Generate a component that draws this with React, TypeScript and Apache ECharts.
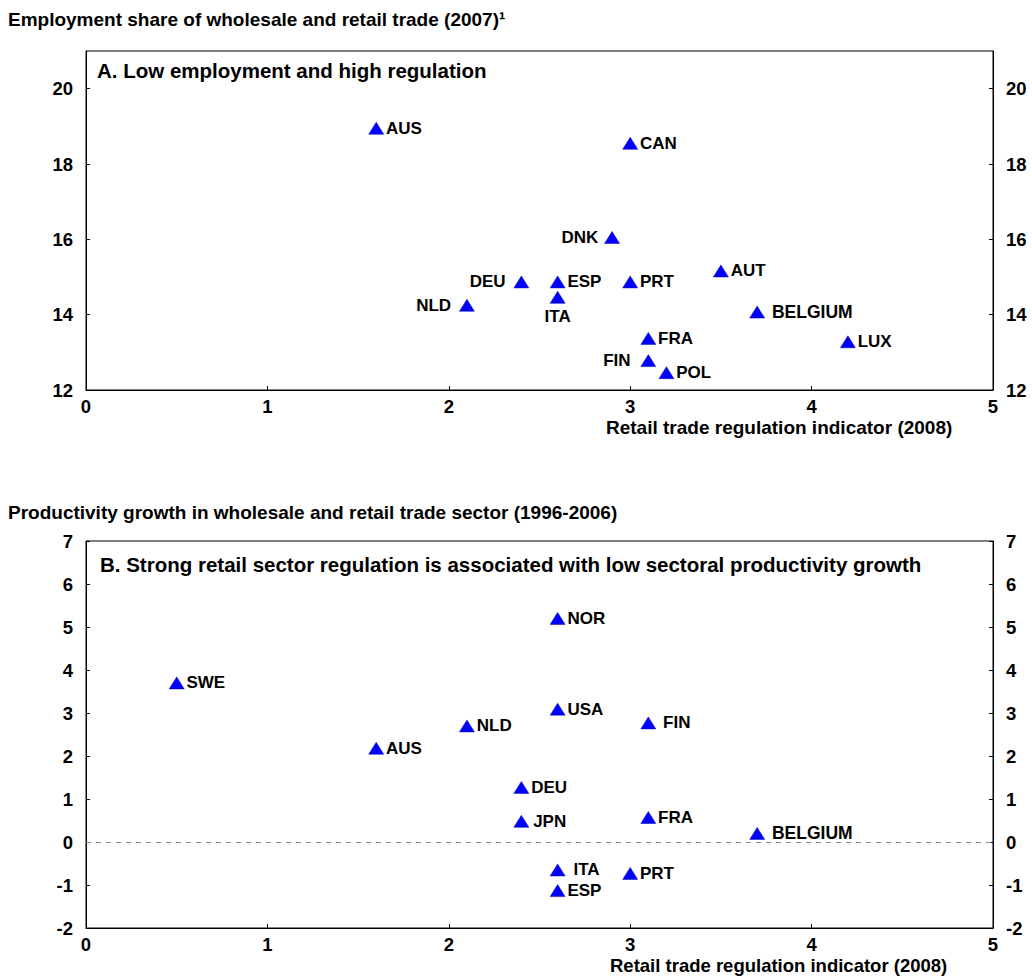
import React, { useEffect, useRef } from "react";
import * as echarts from "echarts";

// Panel A: employment share of wholesale and retail trade (2007) vs regulation (2008)
const countriesA = ["AUS", "CAN", "DNK", "DEU", "ESP", "PRT", "ITA", "NLD", "AUT", "FRA", "FIN", "POL", "BELGIUM", "LUX"];
const regulationA = [1.6, 3.0, 2.9, 2.4, 2.6, 3.0, 2.6, 2.1, 3.5, 3.1, 3.1, 3.2, 3.7, 4.2];
const employmentA = [18.95, 18.55, 16.05, 14.87, 14.87, 14.87, 14.46, 14.25, 15.16, 13.37, 12.78, 12.46, 14.07, 13.28];

// Panel B: productivity growth (1996-2006) vs regulation (2008)
const countriesB = ["SWE", "AUS", "NLD", "NOR", "USA", "FIN", "DEU", "JPN", "FRA", "BELGIUM", "ITA", "ESP", "PRT"];
const regulationB = [0.5, 1.6, 2.1, 2.6, 2.6, 3.1, 2.4, 2.4, 3.1, 3.7, 2.6, 2.6, 3.0];
const productivityB = [3.7, 2.18, 2.7, 5.2, 3.09, 2.77, 1.27, 0.48, 0.57, 0.2, -0.65, -1.13, -0.73];

const xTicksLabel = "Retail trade regulation indicator (2008)";

// label placement (layout only)
const sideA: Record<string, string> = { DNK: "left", DEU: "left", NLD: "left", FIN: "left", ITA: "bottom" };
const gapA: Record<string, number> = { DNK: 6, DEU: 8, NLD: 8, FIN: 10, ITA: 4, BELGIUM: 7 };
const gapB: Record<string, number> = { FIN: 7, ITA: 8, BELGIUM: 7, JPN: 4 };

const FONT = 'Arial, "Liberation Sans", sans-serif';

function buildData(names: string[], xs: number[], ys: number[], side: Record<string, string>, gap: Record<string, number>) {
  return names.map((n, i) => ({
    name: n,
    value: [xs[i], ys[i]],
    label: {
      position: side[n] || "right",
      distance: gap[n] !== undefined ? gap[n] : 2,
      fontWeight: "bold",
      fontSize: n === "BELGIUM" ? 17.5 : 17,
    },
  }));
}

export default function App() {
  const ref = useRef<HTMLDivElement>(null);
  useEffect(() => {
    if (!ref.current) return;
    const chart = echarts.init(ref.current, undefined, { renderer: "svg" });
    const axisLabelBase = { color: "#000", fontSize: 18.5, fontWeight: "bold", fontFamily: FONT };
    const xAxisBase = (gridIndex: number) => ({
      type: "value",
      gridIndex,
      min: 0,
      max: 5,
      interval: 1,
      axisLine: { show: true, onZero: false, lineStyle: { color: "#000", width: 1 } },
      axisTick: { show: true, inside: true, length: 4, lineStyle: { color: "#000" } },
      axisLabel: { ...axisLabelBase, margin: 7 },
      splitLine: { show: false },
    });
    const yAxisBase = (gridIndex: number, position: string, min: number, max: number, interval: number, showMax: boolean) => ({
      type: "value",
      gridIndex,
      position,
      min,
      max,
      interval,
      axisLine: { show: true, lineStyle: { color: "#000", width: 1 } },
      axisTick: { show: true, inside: true, length: 4, lineStyle: { color: "#000" } },
      axisLabel: { ...axisLabelBase, margin: 13, showMaxLabel: showMax },
      splitLine: { show: false },
    });
    const labelStyle = {
      show: true,
      formatter: "{b}",
      color: "#000",
      fontSize: 17,
      fontWeight: "bold",
      fontFamily: FONT,
    };
    chart.setOption({
      animation: false,
      backgroundColor: "#fff",
      grid: [
        { left: 86, top: 51, width: 907, height: 339, show: true, borderColor: "#000", borderWidth: 1, backgroundColor: "transparent" },
        { left: 86, top: 541, width: 907, height: 387, show: true, borderColor: "#000", borderWidth: 1, backgroundColor: "transparent" },
      ],
      xAxis: [xAxisBase(0), xAxisBase(1)],
      yAxis: [
        yAxisBase(0, "left", 12, 21, 2, false),
        yAxisBase(0, "right", 12, 21, 2, false),
        yAxisBase(1, "left", -2, 7, 1, true),
        yAxisBase(1, "right", -2, 7, 1, true),
      ],
      series: [
        {
          type: "scatter",
          xAxisIndex: 0,
          yAxisIndex: 0,
          symbol: "triangle",
          symbolSize: [15, 12],
          itemStyle: { color: "#0000ff", borderColor: "#0000aa", borderWidth: 0.5, opacity: 1 },
          label: labelStyle,
          data: buildData(countriesA, regulationA, employmentA, sideA, gapA),
        },
        {
          type: "scatter",
          xAxisIndex: 1,
          yAxisIndex: 2,
          symbol: "triangle",
          symbolSize: [15, 12],
          itemStyle: { color: "#0000ff", borderColor: "#0000aa", borderWidth: 0.5, opacity: 1 },
          label: labelStyle,
          data: buildData(countriesB, regulationB, productivityB, {}, gapB),
          markLine: {
            silent: true,
            symbol: "none",
            label: { show: false },
            lineStyle: { color: "#888", type: [5, 5], width: 1 },
            data: [{ yAxis: 0 }],
          },
        },
      ],
      graphic: [
        { type: "text", left: 8, top: 10, style: { text: "Employment share of wholesale and retail trade (2007)¹", fill: "#000", font: `bold 19px ${FONT}` } },
        { type: "text", left: 97, top: 60, style: { text: "A. Low employment and high regulation", fill: "#000", font: `bold 20.5px ${FONT}` } },
        { type: "text", left: 606, top: 418, style: { text: xTicksLabel, fill: "#000", font: `bold 19px ${FONT}` } },
        { type: "text", left: 8, top: 503, style: { text: "Productivity growth in wholesale and retail trade sector (1996-2006)", fill: "#000", font: `bold 19px ${FONT}` } },
        { type: "text", left: 100, top: 554, style: { text: "B. Strong retail sector regulation is associated with low sectoral productivity growth", fill: "#000", font: `bold 20.5px ${FONT}` } },
        { type: "text", left: 610, top: 956, style: { text: xTicksLabel, fill: "#000", font: `bold 18.5px ${FONT}` } },
      ],
    });
    return () => chart.dispose();
  }, []);
  return <div ref={ref} style={{ position: "absolute", left: 0, top: 0, width: 1032, height: 978 }} />;
}
